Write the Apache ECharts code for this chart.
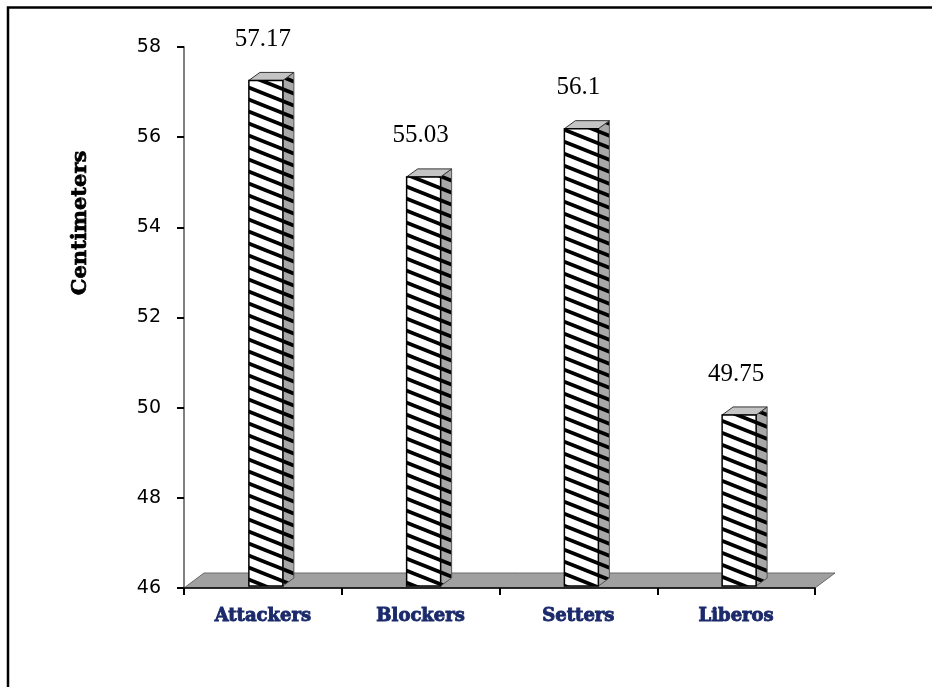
<!DOCTYPE html>
<html>
<head>
<meta charset="utf-8">
<title>Centimeters by position</title>
<script src="https://cdn.jsdelivr.net/npm/echarts@6/dist/echarts.min.js"></script>
<style>
  html, body { margin: 0; padding: 0; background: #fff; }
  #chart { width: 932px; height: 687px; }
</style>
</head>
<body>
<div id="chart"></div>
<script>
// Player groups and their mean values (cm)
const categories = ['Attackers', 'Blockers', 'Setters', 'Liberos'];
const values = [57.17, 55.03, 56.1, 49.75];
const valueLabels = ['57.17', '55.03', '56.1', '49.75'];
const yTicks = { min: 46, max: 58, interval: 2 };

// Diagonal hatch tile used on the bar faces
function makeHatch(bg) {
  const c = document.createElement('canvas');
  const w = 30, h = 12;
  c.width = w; c.height = h;
  const ctx = c.getContext('2d');
  if (bg) { ctx.fillStyle = bg; ctx.fillRect(0, 0, w, h); }
  ctx.strokeStyle = '#000';
  ctx.lineWidth = 3.8;
  ctx.lineCap = 'square';
  for (let k = -1; k <= 1; k++) {
    ctx.beginPath();
    ctx.moveTo(-w, -h + k * h);
    ctx.lineTo(2 * w, 2 * h + k * h);
    ctx.stroke();
  }
  return c;
}
const frontHatch = makeHatch('#ffffff');
const sideHatch = makeHatch('#a8a8a8');

const DEPTH_X = 11, DEPTH_Y = -8;
const FLOOR_X = 20, FLOOR_Y = -15;

const chart = echarts.init(document.getElementById('chart'), null, { renderer: 'canvas' });

const option = {
  animation: false,
  backgroundColor: '#fff',
  grid: { left: 184, right: 117, top: 47, bottom: 99 },
  xAxis: {
    type: 'category',
    data: categories,
    boundaryGap: true,
    axisLine: { show: true, lineStyle: { color: '#000', width: 1.5 } },
    axisTick: { show: true, length: 7, interval: 0, lineStyle: { color: '#000', width: 2 } },
    axisLabel: {
      margin: 19,
      color: '#1b2a6b',
      fontFamily: 'DejaVu Serif',
      fontWeight: 'bold',
      fontSize: 18,
      textBorderColor: '#1b2a6b',
      textBorderWidth: 0.9
    },
    splitLine: { show: false },
    z: 5
  },
  yAxis: {
    type: 'value',
    min: yTicks.min,
    max: yTicks.max,
    interval: yTicks.interval,
    axisLine: { show: true, lineStyle: { color: '#808080', width: 2 } },
    axisTick: { show: true, length: 7, lineStyle: { color: '#000', width: 2 } },
    axisLabel: {
      margin: 23,
      color: '#000',
      fontFamily: 'DejaVu Sans',
      fontSize: 19
    },
    splitLine: { show: false }
  },
  graphic: [
    {
      type: 'rect',
      shape: { x: 8, y: 7.5, width: 1000, height: 1000 },
      style: { fill: 'none', stroke: '#000', lineWidth: 2.5 },
      silent: true
    },
    {
      type: 'text',
      x: 81, y: 223,
      rotation: Math.PI / 2,
      style: {
        text: 'Centimeters',
        align: 'center',
        verticalAlign: 'middle',
        font: 'bold 21px "DejaVu Serif"',
        fill: '#000',
        stroke: '#000',
        lineWidth: 0.7
      }
    }
  ],
  series: [
    {
      // grey floor plane under the bars
      type: 'custom',
      z: 1,
      data: [0],
      renderItem: function (params, api) {
        const cs = params.coordSys;
        const x0 = cs.x, x1 = cs.x + cs.width, yb = cs.y + cs.height;
        return {
          type: 'polygon',
          shape: {
            points: [
              [x0, yb], [x0 + FLOOR_X, yb + FLOOR_Y],
              [x1 + FLOOR_X, yb + FLOOR_Y], [x1, yb]
            ]
          },
          style: { fill: '#a0a0a0', stroke: '#6a6a6a', lineWidth: 1 }
        };
      }
    },
    {
      // hatched 3D columns with value labels
      type: 'custom',
      z: 3,
      data: values.map((v, i) => [i, v]),
      renderItem: function (params, api) {
        const i = api.value(0);
        const v = api.value(1);
        const top = api.coord([i, v]);
        const base = api.coord([i, yTicks.min]);
        const cx = top[0];
        const left = cx - 14, right = cx + 20;
        const yTop = top[1] - 4;
        const yBot = base[1] - 2;
        const dx = DEPTH_X, dy = DEPTH_Y;
        return {
          type: 'group',
          children: [
            {
              type: 'polygon',
              shape: { points: [[right, yTop], [right + dx, yTop + dy], [right + dx, yBot + dy], [right, yBot]] },
              style: { fill: { image: sideHatch, repeat: 'repeat' }, stroke: '#555', lineWidth: 1 }
            },
            {
              type: 'polygon',
              shape: { points: [[left, yTop], [left + dx, yTop + dy], [right + dx, yTop + dy], [right, yTop]] },
              style: { fill: '#c4c4c4', stroke: '#333', lineWidth: 1 }
            },
            {
              type: 'rect',
              shape: { x: left, y: yTop, width: right - left, height: yBot - yTop },
              style: { fill: { image: frontHatch, repeat: 'repeat' }, stroke: '#000', lineWidth: 1.5 }
            },
            {
              type: 'text',
              x: cx, y: top[1] - 45,
              style: {
                text: valueLabels[params.dataIndex],
                align: 'center',
                verticalAlign: 'middle',
                font: '25px "Liberation Serif"',
                fill: '#000'
              }
            }
          ]
        };
      }
    }
  ]
};

chart.setOption(option);
</script>
</body>
</html>
